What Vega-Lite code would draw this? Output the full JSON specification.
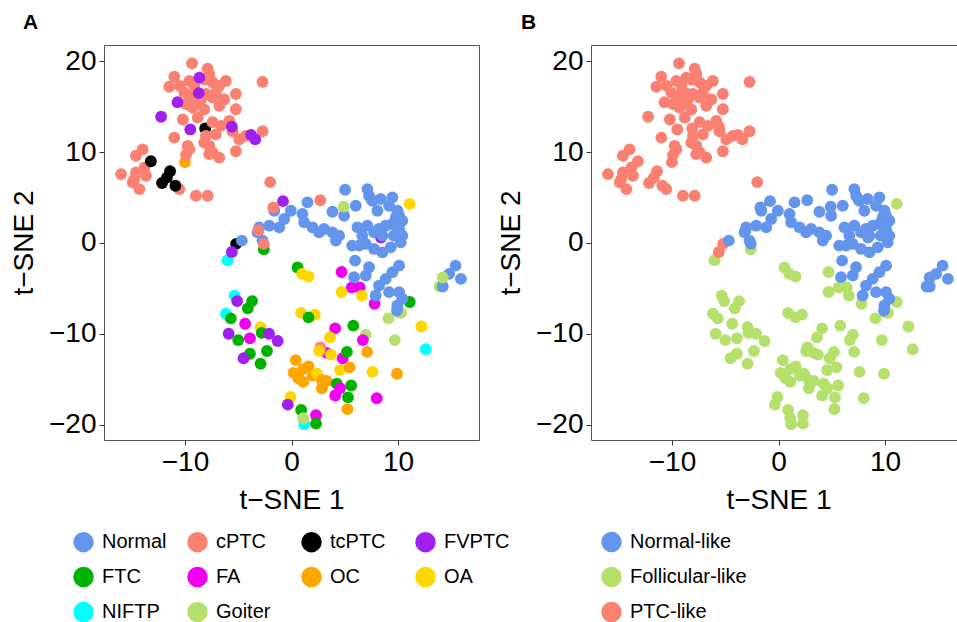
{
"$schema": "https://vega.github.io/schema/vega-lite/v6.json",
"autosize": {"type": "pad"},
"padding": {"left": 10, "top": 11, "right": 0, "bottom": 0},
"background": "white",
"datasets": {"pts": [
{"x":-2.6,"y":-0.7,"s":"FTC","c":"Follicular-like"},
{"x":-6.0,"y":-1.9,"s":"NIFTP","c":"Follicular-like"},
{"x":0.57,"y":-2.7,"s":"FTC","c":"Follicular-like"},
{"x":1.0,"y":-3.4,"s":"OA","c":"Follicular-like"},
{"x":1.6,"y":-3.7,"s":"OA","c":"Follicular-like"},
{"x":4.7,"y":-3.2,"s":"FA","c":"Follicular-like"},
{"x":5.65,"y":-4.9,"s":"FA","c":"Follicular-like"},
{"x":6.4,"y":-4.9,"s":"FA","c":"Follicular-like"},
{"x":4.7,"y":-5.4,"s":"OA","c":"Follicular-like"},
{"x":6.6,"y":-5.8,"s":"OA","c":"Follicular-like"},
{"x":7.8,"y":-6.7,"s":"FA","c":"Follicular-like"},
{"x":11.1,"y":4.3,"s":"OA","c":"Follicular-like"},
{"x":11.1,"y":-6.5,"s":"FTC","c":"Follicular-like"},
{"x":10.0,"y":-7.6,"s":"Goiter","c":"Follicular-like"},
{"x":10.3,"y":-7.7,"s":"Goiter","c":"Follicular-like"},
{"x":9.1,"y":-8.3,"s":"Goiter","c":"Follicular-like"},
{"x":-5.34,"y":-5.8,"s":"NIFTP","c":"Follicular-like"},
{"x":-5.1,"y":-6.4,"s":"FVPTC","c":"Follicular-like"},
{"x":-3.7,"y":-6.4,"s":"FTC","c":"Follicular-like"},
{"x":-4.1,"y":-7.2,"s":"FTC","c":"Follicular-like"},
{"x":-6.15,"y":-7.8,"s":"NIFTP","c":"Follicular-like"},
{"x":-5.7,"y":-8.3,"s":"FTC","c":"Follicular-like"},
{"x":-4.35,"y":-8.9,"s":"FA","c":"Follicular-like"},
{"x":-2.9,"y":-9.27,"s":"OA","c":"Follicular-like"},
{"x":-2.8,"y":-9.9,"s":"FTC","c":"Follicular-like"},
{"x":-5.9,"y":-10.0,"s":"FVPTC","c":"Follicular-like"},
{"x":-5.0,"y":-10.7,"s":"FTC","c":"Follicular-like"},
{"x":-3.9,"y":-10.5,"s":"FA","c":"Follicular-like"},
{"x":-2.1,"y":-10.0,"s":"FVPTC","c":"Follicular-like"},
{"x":-1.3,"y":-10.8,"s":"FVPTC","c":"Follicular-like"},
{"x":-3.9,"y":-12.2,"s":"FTC","c":"Follicular-like"},
{"x":-4.5,"y":-12.7,"s":"FVPTC","c":"Follicular-like"},
{"x":-2.3,"y":-11.9,"s":"FTC","c":"Follicular-like"},
{"x":-2.9,"y":-13.3,"s":"FTC","c":"Follicular-like"},
{"x":0.9,"y":-7.7,"s":"OA","c":"Follicular-like"},
{"x":2.2,"y":-7.9,"s":"OA","c":"Follicular-like"},
{"x":1.6,"y":-8.2,"s":"FTC","c":"Follicular-like"},
{"x":4.1,"y":-9.4,"s":"FA","c":"Follicular-like"},
{"x":5.8,"y":-9.1,"s":"FTC","c":"Follicular-like"},
{"x":3.6,"y":-10.4,"s":"OA","c":"Follicular-like"},
{"x":6.97,"y":-10.1,"s":"Goiter","c":"Follicular-like"},
{"x":6.7,"y":-10.7,"s":"FA","c":"Follicular-like"},
{"x":3.3,"y":-12.1,"s":"FA","c":"Follicular-like"},
{"x":2.7,"y":-11.5,"s":"cPTC","c":"Follicular-like"},
{"x":2.6,"y":-11.9,"s":"OA","c":"Follicular-like"},
{"x":3.7,"y":-12.3,"s":"OA","c":"Follicular-like"},
{"x":4.8,"y":-12.7,"s":"FA","c":"Follicular-like"},
{"x":5.2,"y":-12.0,"s":"FTC","c":"Follicular-like"},
{"x":7.1,"y":-12.0,"s":"OC","c":"Follicular-like"},
{"x":9.7,"y":-10.7,"s":"Goiter","c":"Follicular-like"},
{"x":12.2,"y":-9.2,"s":"OA","c":"Follicular-like"},
{"x":12.6,"y":-11.7,"s":"NIFTP","c":"Follicular-like"},
{"x":0.4,"y":-12.9,"s":"OC","c":"Follicular-like"},
{"x":1.1,"y":-13.9,"s":"OC","c":"Follicular-like"},
{"x":1.6,"y":-13.6,"s":"OC","c":"Follicular-like"},
{"x":0.2,"y":-14.3,"s":"OC","c":"Follicular-like"},
{"x":0.66,"y":-14.9,"s":"OC","c":"Follicular-like"},
{"x":1.1,"y":-15.3,"s":"OC","c":"Follicular-like"},
{"x":2.0,"y":-14.6,"s":"OC","c":"Follicular-like"},
{"x":2.4,"y":-14.4,"s":"OA","c":"Follicular-like"},
{"x":2.85,"y":-15.1,"s":"OC","c":"Follicular-like"},
{"x":3.3,"y":-15.2,"s":"OC","c":"Follicular-like"},
{"x":2.85,"y":-16.0,"s":"OC","c":"Follicular-like"},
{"x":4.56,"y":-14.0,"s":"OA","c":"Follicular-like"},
{"x":5.44,"y":-13.7,"s":"OC","c":"Follicular-like"},
{"x":7.6,"y":-14.2,"s":"OA","c":"Follicular-like"},
{"x":9.9,"y":-14.4,"s":"OC","c":"Follicular-like"},
{"x":4.25,"y":-15.5,"s":"FTC","c":"Follicular-like"},
{"x":5.6,"y":-15.7,"s":"FTC","c":"Follicular-like"},
{"x":4.56,"y":-16.0,"s":"FA","c":"Follicular-like"},
{"x":4.1,"y":-16.8,"s":"FA","c":"Follicular-like"},
{"x":5.3,"y":-17.0,"s":"FTC","c":"Follicular-like"},
{"x":8.0,"y":-17.1,"s":"FA","c":"Follicular-like"},
{"x":5.25,"y":-18.3,"s":"OC","c":"Follicular-like"},
{"x":-0.1,"y":-16.96,"s":"OA","c":"Follicular-like"},
{"x":-0.35,"y":-17.8,"s":"FVPTC","c":"Follicular-like"},
{"x":0.9,"y":-18.4,"s":"FTC","c":"Follicular-like"},
{"x":2.3,"y":-18.97,"s":"FA","c":"Follicular-like"},
{"x":1.2,"y":-19.96,"s":"NIFTP","c":"Follicular-like"},
{"x":1.1,"y":-19.3,"s":"Goiter","c":"Follicular-like"},
{"x":2.3,"y":-19.9,"s":"FTC","c":"Follicular-like"},
{"x":-8.1,"y":12.6,"s":"tcPTC","c":"PTC-like"},
{"x":-10.0,"y":8.9,"s":"OC","c":"PTC-like"},
{"x":-5.2,"y":-0.1,"s":"tcPTC","c":"PTC-like"},
{"x":-10.53,"y":5.93,"s":"cPTC","c":"PTC-like"},
{"x":-9.34,"y":19.78,"s":"cPTC","c":"PTC-like"},
{"x":-7.87,"y":19.2,"s":"cPTC","c":"PTC-like"},
{"x":-11.0,"y":18.3,"s":"cPTC","c":"PTC-like"},
{"x":-11.47,"y":17.2,"s":"cPTC","c":"PTC-like"},
{"x":-10.5,"y":17.3,"s":"cPTC","c":"PTC-like"},
{"x":-9.59,"y":17.84,"s":"cPTC","c":"PTC-like"},
{"x":-9.12,"y":17.3,"s":"cPTC","c":"PTC-like"},
{"x":-8.19,"y":18.0,"s":"cPTC","c":"PTC-like"},
{"x":-7.72,"y":18.6,"s":"cPTC","c":"PTC-like"},
{"x":-7.41,"y":17.7,"s":"cPTC","c":"PTC-like"},
{"x":-6.78,"y":17.3,"s":"cPTC","c":"PTC-like"},
{"x":-6.16,"y":17.84,"s":"cPTC","c":"PTC-like"},
{"x":-5.22,"y":16.4,"s":"cPTC","c":"PTC-like"},
{"x":-6.31,"y":15.8,"s":"cPTC","c":"PTC-like"},
{"x":-6.78,"y":15.1,"s":"cPTC","c":"PTC-like"},
{"x":-7.41,"y":16.0,"s":"cPTC","c":"PTC-like"},
{"x":-8.03,"y":16.4,"s":"cPTC","c":"PTC-like"},
{"x":-8.5,"y":15.8,"s":"cPTC","c":"PTC-like"},
{"x":-8.97,"y":15.3,"s":"cPTC","c":"PTC-like"},
{"x":-9.59,"y":16.2,"s":"cPTC","c":"PTC-like"},
{"x":-10.06,"y":16.55,"s":"cPTC","c":"PTC-like"},
{"x":-9.9,"y":15.3,"s":"cPTC","c":"PTC-like"},
{"x":-9.28,"y":14.9,"s":"cPTC","c":"PTC-like"},
{"x":-8.8,"y":13.8,"s":"cPTC","c":"PTC-like"},
{"x":-8.19,"y":14.7,"s":"cPTC","c":"PTC-like"},
{"x":-7.1,"y":16.55,"s":"cPTC","c":"PTC-like"},
{"x":-5.22,"y":14.72,"s":"cPTC","c":"PTC-like"},
{"x":-2.72,"y":17.73,"s":"cPTC","c":"PTC-like"},
{"x":-10.2,"y":13.6,"s":"cPTC","c":"PTC-like"},
{"x":-8.03,"y":11.8,"s":"cPTC","c":"PTC-like"},
{"x":-7.41,"y":13.3,"s":"cPTC","c":"PTC-like"},
{"x":-7.1,"y":11.96,"s":"cPTC","c":"PTC-like"},
{"x":-6.62,"y":12.9,"s":"cPTC","c":"PTC-like"},
{"x":-5.84,"y":13.45,"s":"cPTC","c":"PTC-like"},
{"x":-5.53,"y":12.3,"s":"cPTC","c":"PTC-like"},
{"x":-4.9,"y":11.4,"s":"cPTC","c":"PTC-like"},
{"x":-5.22,"y":10.1,"s":"cPTC","c":"PTC-like"},
{"x":-4.28,"y":11.8,"s":"cPTC","c":"PTC-like"},
{"x":-2.72,"y":12.3,"s":"cPTC","c":"PTC-like"},
{"x":-7.72,"y":10.7,"s":"cPTC","c":"PTC-like"},
{"x":-7.41,"y":9.96,"s":"cPTC","c":"PTC-like"},
{"x":-6.78,"y":9.4,"s":"cPTC","c":"PTC-like"},
{"x":-7.72,"y":9.78,"s":"cPTC","c":"PTC-like"},
{"x":-8.19,"y":11.05,"s":"cPTC","c":"PTC-like"},
{"x":-9.75,"y":10.7,"s":"cPTC","c":"PTC-like"},
{"x":-9.9,"y":9.7,"s":"cPTC","c":"PTC-like"},
{"x":-9.59,"y":10.3,"s":"cPTC","c":"PTC-like"},
{"x":-11.0,"y":11.6,"s":"cPTC","c":"PTC-like"},
{"x":-13.97,"y":10.3,"s":"cPTC","c":"PTC-like"},
{"x":-14.6,"y":9.6,"s":"cPTC","c":"PTC-like"},
{"x":-13.8,"y":8.32,"s":"cPTC","c":"PTC-like"},
{"x":-14.6,"y":7.76,"s":"cPTC","c":"PTC-like"},
{"x":-16.0,"y":7.58,"s":"cPTC","c":"PTC-like"},
{"x":-14.75,"y":7.03,"s":"cPTC","c":"PTC-like"},
{"x":-14.28,"y":5.93,"s":"cPTC","c":"PTC-like"},
{"x":-13.66,"y":7.4,"s":"cPTC","c":"PTC-like"},
{"x":-14.9,"y":6.67,"s":"cPTC","c":"PTC-like"},
{"x":-8.97,"y":5.2,"s":"cPTC","c":"PTC-like"},
{"x":-7.87,"y":5.2,"s":"cPTC","c":"PTC-like"},
{"x":-2.0,"y":6.7,"s":"cPTC","c":"PTC-like"},
{"x":-8.65,"y":18.2,"s":"FVPTC","c":"PTC-like"},
{"x":-8.7,"y":16.5,"s":"FVPTC","c":"PTC-like"},
{"x":-10.7,"y":15.5,"s":"FVPTC","c":"PTC-like"},
{"x":-12.24,"y":13.9,"s":"FVPTC","c":"PTC-like"},
{"x":-9.5,"y":12.5,"s":"FVPTC","c":"PTC-like"},
{"x":-5.6,"y":12.8,"s":"FVPTC","c":"PTC-like"},
{"x":-3.8,"y":11.9,"s":"FVPTC","c":"PTC-like"},
{"x":-3.4,"y":11.4,"s":"FVPTC","c":"PTC-like"},
{"x":-13.2,"y":9.0,"s":"tcPTC","c":"PTC-like"},
{"x":-11.4,"y":7.9,"s":"tcPTC","c":"PTC-like"},
{"x":-11.7,"y":7.2,"s":"tcPTC","c":"PTC-like"},
{"x":-12.15,"y":6.6,"s":"tcPTC","c":"PTC-like"},
{"x":-10.9,"y":6.3,"s":"tcPTC","c":"PTC-like"},
{"x":-5.6,"y":-1.0,"s":"FVPTC","c":"PTC-like"},
{"x":7.5,"y":4.8,"s":"Goiter","c":"Normal-like"},
{"x":8.4,"y":0.6,"s":"FVPTC","c":"Normal-like"},
{"x":2.7,"y":4.7,"s":"cPTC","c":"Normal-like"},
{"x":13.9,"y":-4.8,"s":"Goiter","c":"Normal-like"},
{"x":5.03,"y":5.86,"s":"Normal","c":"Normal-like"},
{"x":7.12,"y":5.93,"s":"Normal","c":"Normal-like"},
{"x":7.28,"y":5.2,"s":"Normal","c":"Normal-like"},
{"x":7.59,"y":4.65,"s":"Normal","c":"Normal-like"},
{"x":8.37,"y":4.84,"s":"Normal","c":"Normal-like"},
{"x":9.47,"y":5.02,"s":"Normal","c":"Normal-like"},
{"x":9.16,"y":4.1,"s":"Normal","c":"Normal-like"},
{"x":8.06,"y":3.55,"s":"Normal","c":"Normal-like"},
{"x":9.94,"y":3.55,"s":"Normal","c":"Normal-like"},
{"x":9.78,"y":2.82,"s":"Normal","c":"Normal-like"},
{"x":10.4,"y":2.45,"s":"Normal","c":"Normal-like"},
{"x":9.47,"y":2.09,"s":"Normal","c":"Normal-like"},
{"x":8.84,"y":1.9,"s":"Normal","c":"Normal-like"},
{"x":8.2,"y":1.54,"s":"Normal","c":"Normal-like"},
{"x":10.1,"y":1.54,"s":"Normal","c":"Normal-like"},
{"x":10.4,"y":0.81,"s":"Normal","c":"Normal-like"},
{"x":10.25,"y":0.07,"s":"Normal","c":"Normal-like"},
{"x":9.31,"y":-0.48,"s":"Normal","c":"Normal-like"},
{"x":8.53,"y":-1.03,"s":"Normal","c":"Normal-like"},
{"x":7.75,"y":-0.66,"s":"Normal","c":"Normal-like"},
{"x":6.97,"y":-0.11,"s":"Normal","c":"Normal-like"},
{"x":6.34,"y":-0.29,"s":"Normal","c":"Normal-like"},
{"x":7.12,"y":1.9,"s":"Normal","c":"Normal-like"},
{"x":6.19,"y":1.72,"s":"Normal","c":"Normal-like"},
{"x":6.03,"y":4.1,"s":"Normal","c":"Normal-like"},
{"x":4.94,"y":3.0,"s":"Normal","c":"Normal-like"},
{"x":3.84,"y":3.44,"s":"Normal","c":"Normal-like"},
{"x":4.47,"y":0.81,"s":"Normal","c":"Normal-like"},
{"x":3.84,"y":1.17,"s":"Normal","c":"Normal-like"},
{"x":3.06,"y":1.54,"s":"Normal","c":"Normal-like"},
{"x":2.59,"y":1.17,"s":"Normal","c":"Normal-like"},
{"x":1.97,"y":1.72,"s":"Normal","c":"Normal-like"},
{"x":1.19,"y":2.27,"s":"Normal","c":"Normal-like"},
{"x":1.03,"y":3.19,"s":"Normal","c":"Normal-like"},
{"x":1.5,"y":4.47,"s":"Normal","c":"Normal-like"},
{"x":-0.06,"y":3.55,"s":"Normal","c":"Normal-like"},
{"x":-1.62,"y":3.55,"s":"Normal","c":"Normal-like"},
{"x":-0.69,"y":2.64,"s":"Normal","c":"Normal-like"},
{"x":-1.15,"y":1.72,"s":"Normal","c":"Normal-like"},
{"x":-2.09,"y":1.9,"s":"Normal","c":"Normal-like"},
{"x":-3.03,"y":1.72,"s":"Normal","c":"Normal-like"},
{"x":-3.19,"y":1.17,"s":"Normal","c":"Normal-like"},
{"x":-2.72,"y":0.26,"s":"Normal","c":"Normal-like"},
{"x":-4.66,"y":0.26,"s":"Normal","c":"Normal-like"},
{"x":8.53,"y":0.81,"s":"Normal","c":"Normal-like"},
{"x":7.75,"y":1.17,"s":"Normal","c":"Normal-like"},
{"x":6.65,"y":0.81,"s":"Normal","c":"Normal-like"},
{"x":5.97,"y":-1.94,"s":"Normal","c":"Normal-like"},
{"x":7.28,"y":-2.67,"s":"Normal","c":"Normal-like"},
{"x":5.87,"y":-3.77,"s":"Normal","c":"Normal-like"},
{"x":6.97,"y":-3.59,"s":"Normal","c":"Normal-like"},
{"x":10.1,"y":-2.5,"s":"Normal","c":"Normal-like"},
{"x":9.47,"y":-3.22,"s":"Normal","c":"Normal-like"},
{"x":8.84,"y":-3.96,"s":"Normal","c":"Normal-like"},
{"x":8.22,"y":-4.69,"s":"Normal","c":"Normal-like"},
{"x":7.9,"y":-5.79,"s":"Normal","c":"Normal-like"},
{"x":9.16,"y":-5.42,"s":"Normal","c":"Normal-like"},
{"x":10.1,"y":-5.42,"s":"Normal","c":"Normal-like"},
{"x":10.4,"y":-6.15,"s":"Normal","c":"Normal-like"},
{"x":9.94,"y":-6.88,"s":"Normal","c":"Normal-like"},
{"x":9.9,"y":-7.44,"s":"Normal","c":"Normal-like"},
{"x":15.4,"y":-2.5,"s":"Normal","c":"Normal-like"},
{"x":14.8,"y":-3.4,"s":"Normal","c":"Normal-like"},
{"x":15.9,"y":-3.96,"s":"Normal","c":"Normal-like"},
{"x":14.2,"y":-4.8,"s":"Normal","c":"Normal-like"},
{"x":10.1,"y":3.0,"s":"Normal","c":"Normal-like"},
{"x":9.6,"y":0.8,"s":"Normal","c":"Normal-like"},
{"x":5.7,"y":-0.3,"s":"Normal","c":"Normal-like"},
{"x":4.16,"y":0.26,"s":"Normal","c":"Normal-like"},
{"x":-0.8,"y":4.6,"s":"FVPTC","c":"Normal-like"},
{"x":4.9,"y":4.0,"s":"Goiter","c":"Normal-like"},
{"x":14.2,"y":-3.8,"s":"Goiter","c":"Normal-like"},
{"x":-1.7,"y":3.9,"s":"cPTC","c":"Normal-like"},
{"x":-3.1,"y":1.4,"s":"cPTC","c":"Normal-like"},
{"x":-2.6,"y":-0.1,"s":"cPTC","c":"Normal-like"}
]},
"spacing": 112,
"bounds": "flush",
"hconcat": [
{
"title": {"text": "A", "anchor": "start", "frame": "group", "dx": -81, "offset": -5, "baseline": "alphabetic", "fontSize": 21, "fontWeight": "bold", "font": "Liberation Sans", "color": "#000000"},
"width": 375, "height": 395,
"data": {"name": "pts"},
"mark": {"type": "point", "filled": true, "size": 140, "opacity": 1},
"encoding": {
"x": {"field": "x", "type": "quantitative", "scale": {"domain": [-17.6, 17.6], "nice": false, "zero": false}, "axis": {"values": [-10, 0, 10], "title": "t−SNE 1"}},
"y": {"field": "y", "type": "quantitative", "scale": {"domain": [-21.7, 21.8], "nice": false, "zero": false}, "axis": {"values": [-20, -10, 0, 10, 20], "title": "t−SNE 2"}},
"color": {"field": "s", "type": "nominal",
"scale": {"domain": ["Normal", "cPTC", "tcPTC", "FVPTC", "FTC", "FA", "OC", "OA", "NIFTP", "Goiter"],
"range": ["#6495ED", "#FA8072", "#000000", "#A020F0", "#00B200", "#F000F0", "#FFA500", "#FFD700", "#00FFFF", "#B4E06B"]},
"legend": {"title": null, "orient": "none", "legendX": -31, "legendY": 486.5, "columns": 4, "direction": "horizontal", "gridAlign": "all", "columnPadding": 19}}
}
},
{
"title": {"text": "B", "anchor": "start", "frame": "group", "dx": -70, "offset": -5, "baseline": "alphabetic", "fontSize": 21, "fontWeight": "bold", "font": "Liberation Sans", "color": "#000000"},
"width": 375, "height": 395,
"data": {"name": "pts"},
"mark": {"type": "point", "filled": true, "size": 140, "opacity": 1},
"encoding": {
"x": {"field": "x", "type": "quantitative", "scale": {"domain": [-17.6, 17.6], "nice": false, "zero": false}, "axis": {"values": [-10, 0, 10], "title": "t−SNE 1"}},
"y": {"field": "y", "type": "quantitative", "scale": {"domain": [-21.7, 21.8], "nice": false, "zero": false}, "axis": {"values": [-20, -10, 0, 10, 20], "title": "t−SNE 2"}},
"color": {"field": "c", "type": "nominal",
"scale": {"domain": ["Normal-like", "Follicular-like", "PTC-like"], "range": ["#6495ED", "#B4E06B", "#FA8072"]},
"legend": {"title": null, "orient": "none", "legendX": 10, "legendY": 486.5, "columns": 1, "direction": "vertical"}}
}
}
],
"resolve": {"scale": {"color": "independent"}},
"config": {
"view": {"stroke": "#555555", "strokeWidth": 1},
"axis": {"grid": false, "domain": false, "labelFont": "Liberation Sans", "titleFont": "Liberation Sans", "labelFontSize": 28, "titleFontSize": 28, "labelColor": "#000000", "titleColor": "#000000", "titleFontWeight": "normal", "tickColor": "#333333", "tickSize": 5, "tickWidth": 1, "labelPadding": 3, "titlePadding": 10},
"legend": {"labelFont": "Liberation Sans", "labelFontSize": 20, "labelColor": "#000000", "symbolType": "circle", "symbolSize": 420, "symbolStrokeWidth": 0, "symbolOpacity": 1, "labelOffset": 8, "rowPadding": 14, "padding": 0}
}
}
